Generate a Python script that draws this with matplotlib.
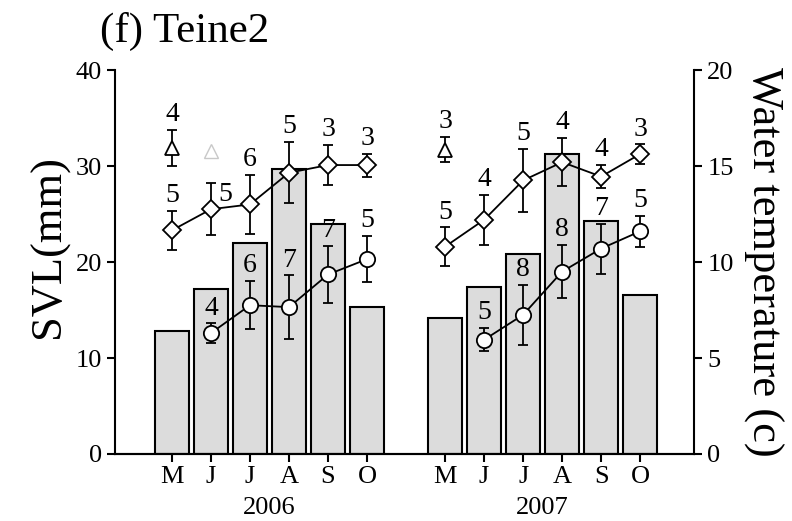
import matplotlib.pyplot as plt
import matplotlib.transforms as mtransforms
import numpy as np

plt.rcParams['font.family'] = ['Liberation Serif', 'DejaVu Serif']

months = ['M', 'J', 'J', 'A', 'S', 'O']
years = ['2006', '2007']

# water temperature (bars, right axis)
temp_2006 = [6.4, 8.6, 11.0, 14.85, 12.0, 7.65]
temp_2007 = [7.1, 8.7, 10.4, 15.6, 12.15, 8.3]

# SVL diamonds
dia_2006 = [23.3, 25.5, 26.0, 29.3, 30.1, 30.1]
dia_err_2006 = [2.0, 2.7, 3.1, 3.2, 2.1, 1.2]
dia_n_2006 = ['5', '5', '6', '5', '3', '3']
dia_2007 = [21.6, 24.4, 28.5, 30.4, 28.9, 31.25]
dia_err_2007 = [2.0, 2.6, 3.3, 2.5, 1.2, 1.0]
dia_n_2007 = ['5', '4', '5', '4', '4', '3']

# SVL circles (none in May)
cir_2006 = [np.nan, 12.6, 15.5, 15.3, 18.7, 20.3]
cir_err_2006 = [np.nan, 1.0, 2.5, 3.3, 3.0, 2.4]
cir_n_2006 = ['', '4', '6', '7', '7', '5']
cir_2007 = [np.nan, 11.9, 14.5, 19.0, 21.4, 23.2]
cir_err_2007 = [np.nan, 1.2, 3.1, 2.8, 2.6, 1.6]
cir_n_2007 = ['', '5', '8', '8', '7', '5']

# SVL triangles (May only)
tri_2006 = 31.9
tri_err_2006 = 1.9
tri_n_2006 = '4'
tri_2007 = 31.7
tri_err_2007 = 1.3
tri_n_2007 = '3'
tri_faint_2006 = 31.6  # light grey marker in June 2006

x06 = np.arange(6)
x07 = np.arange(6) + 7

fig = plt.figure(figsize=(7.92, 5.21), dpi=100)
ax = fig.add_axes([0.1452, 0.1286, 0.7311, 0.737])
ax2 = ax.twinx()
ax.set_zorder(ax2.get_zorder() + 1)
ax.patch.set_visible(False)

# bars
for xs, t in [(x06, temp_2006), (x07, temp_2007)]:
    ax2.bar(xs, t, width=0.87, color='#dcdcdc', edgecolor='black', linewidth=1.5)

ekw = dict(color='black', elinewidth=1.3, capsize=3.5, capthick=1.3)
NFS = 20

def nlabel(n, x, top, dx=0, dy=2):
    ax.annotate(n, (x, top), xytext=(dx, dy), textcoords='offset points',
                ha='center', va='bottom', fontsize=NFS)

for xs, d, de, dn, c, ce, cn in [
        (x06, dia_2006, dia_err_2006, dia_n_2006, cir_2006, cir_err_2006, cir_n_2006),
        (x07, dia_2007, dia_err_2007, dia_n_2007, cir_2007, cir_err_2007, cir_n_2007)]:
    ax.errorbar(xs, d, yerr=de, fmt='none', **ekw, zorder=3)
    ax.plot(xs, d, '-', color='black', lw=1.3, marker='D', ms=9,
            mfc='white', mec='black', mew=1.3, zorder=4)
    ax.errorbar(xs, c, yerr=ce, fmt='none', **ekw, zorder=3)
    ax.plot(xs, c, '-', color='black', lw=1.3, marker='o', ms=11,
            mfc='white', mec='black', mew=1.3, zorder=4)
    for i in range(6):
        if xs is x06 and i == 1:
            # this one sits beside the error bar
            nlabel(dn[i], xs[i], d[i] + de[i], dx=10, dy=-17)
        else:
            nlabel(dn[i], xs[i], d[i] + de[i])
        if cn[i]:
            nlabel(cn[i], xs[i], c[i] + ce[i])

for x, t, te, tn in [(x06[0], tri_2006, tri_err_2006, tri_n_2006),
                     (x07[0], tri_2007, tri_err_2007, tri_n_2007)]:
    ax.errorbar([x], [t], yerr=[te], fmt='^', ms=10, mfc='white', mec='black',
                mew=1.3, **ekw, zorder=4)
    nlabel(tn, x, t + te)
ax.plot([x06[1]], [tri_faint_2006], '^', ms=10, mfc='white', mec='#c8c8c8', mew=1.0)

ax.set_xlim(-1.46, 13.38)
ax.set_ylim(0, 40)
ax2.set_ylim(0, 20)
ax.set_yticks([0, 10, 20, 30, 40])
ax2.set_yticks([0, 5, 10, 15, 20])
ax.set_xticks(np.concatenate([x06, x07]))
ax.set_xticklabels(months + months)

for a in (ax, ax2):
    a.spines['top'].set_visible(False)
    for s in a.spines.values():
        s.set_linewidth(1.5)
    a.tick_params(direction='out', length=6, width=1.5, labelsize=19)
ax.spines['right'].set_visible(False)
ax2.spines['left'].set_visible(False)
ax.tick_params(axis='x', pad=3, labelsize=19)

ax.set_ylabel('SVL(mm)', fontsize=32)
ax.yaxis.set_label_coords(-0.08, 0.54)
ax2.set_ylabel('Water temperature (c)', fontsize=32, rotation=-90, labelpad=36)

trans = mtransforms.blended_transform_factory(ax.transData, ax.transAxes)
ax.text(x06.mean(), -0.14, years[0], transform=trans, ha='center', va='center', fontsize=19)
ax.text(x07.mean(), -0.14, years[1], transform=trans, ha='center', va='center', fontsize=19)

fig.text(0.126, 0.94, '(f) Teine2', fontsize=31, ha='left', va='center')

fig.savefig('out.png', dpi=100)
